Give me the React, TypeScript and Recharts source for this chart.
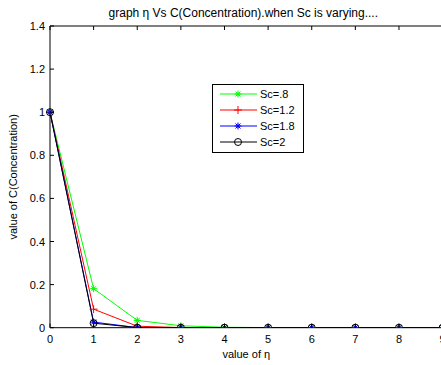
import { LineChart, Line, XAxis, YAxis, Legend, Label } from 'recharts';

// eta values along the x axis
const eta = [0, 1, 2, 3, 4, 5, 6, 7, 8, 9];

// concentration for each Sc
const sc08 = [1, 0.181, 0.034, 0.009, 0.002, 0.0005, 0.0001, 0, 0, 0];
const sc12 = [1, 0.086, 0.007, 0.0006, 0.0001, 0, 0, 0, 0, 0];
const sc18 = [1, 0.026, 0.0007, 0, 0, 0, 0, 0, 0, 0];
const sc2 = [1, 0.021, 0.0004, 0, 0, 0, 0, 0, 0, 0];

const xTicks = [0, 1, 2, 3, 4, 5, 6, 7, 8, 9];
const yTicks = [0, 0.2, 0.4, 0.6, 0.8, 1, 1.2, 1.4];

const seriesNames = ['Sc=.8', 'Sc=1.2', 'Sc=1.8', 'Sc=2'];
const seriesKeys = ['s08', 's12', 's18', 's2'];
const seriesColors = ['#00ff00', '#ff0000', '#0000ff', '#000000'];
const seriesMarkers = ['star', 'plus', 'star', 'circle'];

const data = eta.map((e, i) => ({
  eta: e,
  s08: sc08[i],
  s12: sc12[i],
  s18: sc18[i],
  s2: sc2[i],
}));

const FONT = '"Liberation Sans", Arial, sans-serif';

const Marker = ({ cx, cy, shape, color }: any) => {
  if (cx == null || cy == null) return null;
  if (shape === 'star') {
    return (
      <g stroke={color} strokeWidth={1}>
        <line x1={cx - 3.5} y1={cy} x2={cx + 3.5} y2={cy} />
        <line x1={cx} y1={cy - 3.5} x2={cx} y2={cy + 3.5} />
        <line x1={cx - 2.5} y1={cy - 2.5} x2={cx + 2.5} y2={cy + 2.5} />
        <line x1={cx - 2.5} y1={cy + 2.5} x2={cx + 2.5} y2={cy - 2.5} />
        <circle cx={cx} cy={cy} r={1.5} fill={color} stroke="none" />
      </g>
    );
  }
  if (shape === 'plus') {
    return (
      <g stroke={color} strokeWidth={1}>
        <line x1={cx - 4} y1={cy} x2={cx + 4} y2={cy} />
        <line x1={cx} y1={cy - 4} x2={cx} y2={cy + 4} />
      </g>
    );
  }
  return <circle cx={cx} cy={cy} r={3.5} fill="none" stroke={color} strokeWidth={1} />;
};

const fmt = (v: number) => String(Math.round(v * 10) / 10);

const BottomTick = ({ x, y, payload }: any) => (
  <g>
    <line x1={x} y1={y} x2={x} y2={y - 4} stroke="#000" />
    <text x={x} y={y + 15} textAnchor="middle" fontSize={11} fontFamily={FONT} fill="#000">
      {fmt(payload.value)}
    </text>
  </g>
);

const TopTick = ({ x, y }: any) => <line x1={x} y1={y} x2={x} y2={y + 4} stroke="#000" />;

const LeftTick = ({ x, y, payload }: any) => (
  <g>
    <line x1={x} y1={y} x2={x + 4} y2={y} stroke="#000" />
    <text x={x - 5} y={y + 4} textAnchor="end" fontSize={11} fontFamily={FONT} fill="#000">
      {fmt(payload.value)}
    </text>
  </g>
);

const RightTick = ({ x, y }: any) => <line x1={x} y1={y} x2={x - 4} y2={y} stroke="#000" />;

const LegendBox = ({ payload }: any) => (
  <svg width={92} height={69} style={{ display: 'block' }}>
    <rect x={0.5} y={0.5} width={91} height={68} fill="#fff" stroke="#000" strokeWidth={1} />
    {(payload || []).map((item: any, i: number) => {
      const idx = seriesNames.indexOf(item.value);
      const cy = 10 + i * 16;
      const color = seriesColors[idx];
      return (
        <g key={item.value}>
          <line x1={8} y1={cy} x2={45} y2={cy} stroke={color} strokeWidth={1} />
          <Marker cx={26} cy={cy} shape={seriesMarkers[idx]} color={color} />
          <text x={48} y={cy + 4} fontSize={11} fontFamily={FONT} fill="#000">
            {item.value}
          </text>
        </g>
      );
    })}
  </svg>
);

export default function App() {
  return (
    <div
      style={{
        position: 'absolute',
        left: 0,
        top: 0,
        width: 441,
        height: 365,
        overflow: 'hidden',
        background: '#fff',
        fontFamily: FONT,
      }}
    >
      <LineChart
        width={460}
        height={365}
        data={data}
        margin={{ top: 16, right: 7.4, bottom: 17.3, left: 10 }}
      >
        <XAxis
          dataKey="eta"
          type="number"
          domain={[0, 9]}
          ticks={xTicks}
          height={20}
          tickSize={0}
          tickMargin={0}
          tickLine={false}
          tick={<BottomTick />}
          axisLine={{ stroke: '#000' }}
          interval={0}
        >
          <Label
            content={({ viewBox }: any) => (
              <text
                x={viewBox.x + viewBox.width / 2}
                y={viewBox.y + viewBox.height + 10}
                textAnchor="middle"
                fontSize={11}
                fontFamily={FONT}
                fill="#000"
              >
                value of η
              </text>
            )}
          />
        </XAxis>
        <XAxis
          xAxisId="top"
          orientation="top"
          dataKey="eta"
          type="number"
          domain={[0, 9]}
          ticks={xTicks}
          height={10}
          tickSize={0}
          tickMargin={0}
          tickLine={false}
          tick={<TopTick />}
          axisLine={{ stroke: '#000' }}
          interval={0}
        >
          <Label
            content={({ viewBox }: any) => (
              <text
                x={viewBox.x + viewBox.width / 2 - 3}
                y={viewBox.y + 0.5}
                textAnchor="middle"
                fontSize={12}
                fontFamily={FONT}
                fill="#000"
              >
                graph η Vs C(Concentration).when Sc is varying....
              </text>
            )}
          />
        </XAxis>
        <YAxis
          type="number"
          domain={[0, 1.4]}
          ticks={yTicks}
          width={40}
          tickSize={0}
          tickMargin={0}
          tickLine={false}
          tick={<LeftTick />}
          axisLine={{ stroke: '#000' }}
          allowDataOverflow
          interval={0}
        >
          <Label
            content={({ viewBox }: any) => {
              const cx = viewBox.x + 7;
              const cy = viewBox.y + viewBox.height / 2;
              return (
                <text
                  x={cx}
                  y={cy}
                  transform={`rotate(-90 ${cx} ${cy})`}
                  textAnchor="middle"
                  fontSize={11}
                  fontFamily={FONT}
                  fill="#000"
                >
                  value of C(Concentration)
                </text>
              );
            }}
          />
        </YAxis>
        <YAxis
          yAxisId="right"
          orientation="right"
          type="number"
          domain={[0, 1.4]}
          ticks={yTicks}
          width={10}
          tickSize={0}
          tickMargin={0}
          tickLine={false}
          tick={<RightTick />}
          axisLine={{ stroke: '#000' }}
          interval={0}
        />
        {seriesKeys.map((k, i) => (
          <Line
            key={k}
            dataKey={k}
            name={seriesNames[i]}
            type="linear"
            stroke={seriesColors[i]}
            strokeWidth={1}
            isAnimationActive={false}
            activeDot={false}
            dot={(p: any) => (
              <Marker
                key={`${k}-${p.index}`}
                cx={p.cx}
                cy={p.cy}
                shape={seriesMarkers[i]}
                color={seriesColors[i]}
              />
            )}
          />
        ))}
        <Legend
          layout="vertical"
          align="center"
          verticalAlign="middle"
          wrapperStyle={{ left: 212, top: 84, width: 92, height: 69 }}
          content={<LegendBox />}
        />
      </LineChart>
    </div>
  );
}
